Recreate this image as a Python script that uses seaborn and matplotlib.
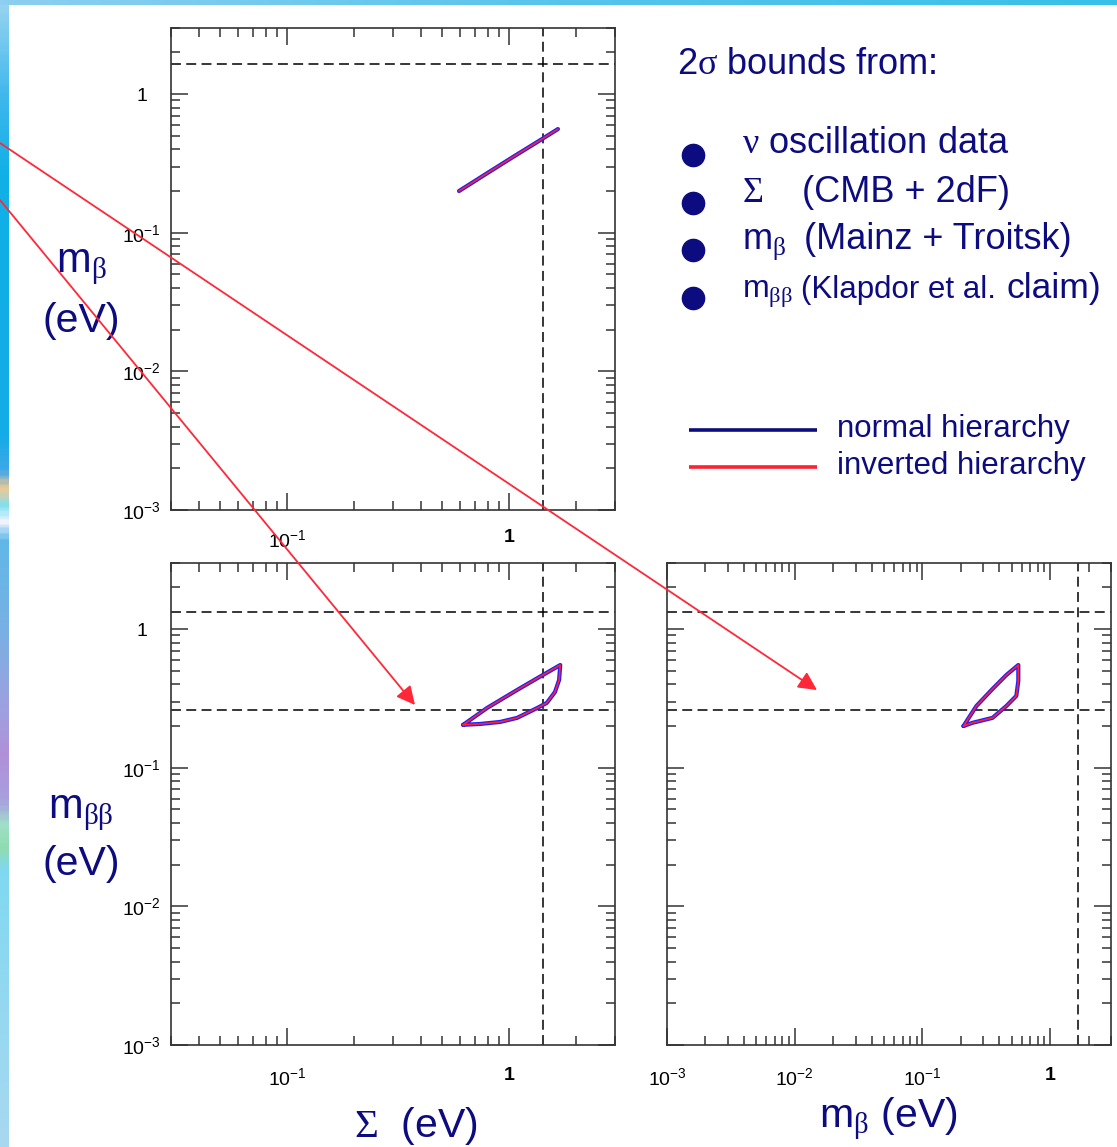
import numpy as np
import pandas as pd
import matplotlib
matplotlib.use("Agg")
import matplotlib.pyplot as plt
import seaborn as sns
from matplotlib.ticker import FixedLocator, FixedFormatter, LogLocator, NullFormatter
from matplotlib.colors import LinearSegmentedColormap

# ---------------- data ----------------
# top panel: m_beta vs Sigma (normal and inverted coincide)
top_sigma = [0.595, 0.80, 1.05, 1.35, 1.66]
top_mbeta = [0.200, 0.270, 0.355, 0.455, 0.560]

# bottom-left panel: m_bb vs Sigma (closed 2-sigma contour)
bl_sigma = [0.621, 0.796, 1.087, 1.42, 1.70, 1.68, 1.61, 1.48, 1.34, 1.087, 0.911, 0.740, 0.621]
bl_mbb = [0.204, 0.270, 0.364, 0.467, 0.551, 0.430, 0.352, 0.294, 0.270, 0.229, 0.214, 0.207, 0.204]

# bottom-right panel: m_bb vs m_beta (closed 2-sigma contour)
br_mbeta = [0.210, 0.265, 0.354, 0.455, 0.564, 0.564, 0.544, 0.455, 0.354, 0.247, 0.210]
br_mbb = [0.200, 0.279, 0.370, 0.467, 0.551, 0.423, 0.330, 0.279, 0.229, 0.211, 0.200]

# 2-sigma bounds (dashed lines)
sigma_bound = 1.42
mbeta_bound = 1.66
mbb_bounds = [0.263, 1.32]

# axis ranges
sigma_lim = [0.03, 3.0]
mass_lim = [0.001, 3.0]

# ticks
sigma_ticks = [0.1, 1.0]
sigma_ticklabels = [r"$10^{-1}$", r"$\mathbf{1}$"]
mass_ticks = [0.001, 0.01, 0.1, 1.0]
mass_xticklabels = [r"$10^{-3}$", r"$10^{-2}$", r"$10^{-1}$", r"$\mathbf{1}$"]
mass_yticklabels = [r"$10^{-3}$", r"$10^{-2}$", r"$10^{-1}$", "1"]

legend_labels = ["normal hierarchy", "inverted hierarchy"]

# ---------------- style ----------------
sns.set_theme(style="ticks")
plt.rcParams["font.family"] = ["Liberation Sans", "DejaVu Sans"]
plt.rcParams["mathtext.fontset"] = "custom"
plt.rcParams["mathtext.rm"] = "Liberation Sans"
plt.rcParams["mathtext.it"] = "Liberation Sans:italic"
plt.rcParams["mathtext.bf"] = "Liberation Sans:bold"
plt.rcParams["mathtext.sf"] = "Liberation Serif"
plt.rcParams["axes.unicode_minus"] = True

W, H = 1117, 1147
DPI = 100
NAVY = "#0c0c80"
BLUE = "#2020ff"
RED = "#ff2030"
ARROW_RED = "#ff2838"
AX_COL = "#333333"

fig = plt.figure(figsize=(W / DPI, H / DPI), dpi=DPI)
fig.patch.set_facecolor("white")

# decorative slide strips (left and top)
strip_cmap = LinearSegmentedColormap.from_list(
    "strip",
    [(0.00, "#98d4f0"), (0.08, "#40b8ec"), (0.15, "#10b0e6"), (0.38, "#14ace6"),
     (0.41, "#40a8e8"), (0.425, "#f4c890"), (0.44, "#80e0f0"), (0.455, "#f0f4ff"),
     (0.47, "#60b8e8"), (0.55, "#78b0e4"), (0.62, "#a0a0e0"), (0.66, "#b090d8"),
     (0.70, "#a8a0e0"), (0.72, "#a0e0c8"), (0.74, "#90dcb0"), (0.76, "#80d8f0"),
     (1.00, "#a8d8f0")])
ax_strip = fig.add_axes([0, 0, 9 / W, 1])
ax_strip.imshow(np.linspace(0, 1, 400).reshape(-1, 1), aspect="auto", cmap=strip_cmap,
                origin="upper", extent=[0, 1, 0, 1])
ax_strip.set_axis_off()
top_cmap = LinearSegmentedColormap.from_list("top", ["#8ccff0", "#58c4ec", "#38c0e8"])
ax_topband = fig.add_axes([0, 1 - 5 / H, 1, 5 / H])
ax_topband.imshow(np.linspace(0, 1, 400).reshape(1, -1), aspect="auto", cmap=top_cmap,
                  extent=[0, 1, 0, 1])
ax_topband.set_axis_off()


def px_axes(left, top, right, bottom):
    return fig.add_axes([left / W, 1 - bottom / H, (right - left) / W, (bottom - top) / H])


ax_top = px_axes(171, 28, 615, 510)
ax_bl = px_axes(171, 563, 615, 1045)
ax_br = px_axes(667, 563, 1111, 1045)

dash = (0, (6.5, 3.5))


def style_axes(ax, xlim, xticks, xlabels, ylim, yticks, ylabels, show_ylabels=True, xpad=16):
    ax.set_xscale("log")
    ax.set_yscale("log")
    ax.set_xlim(*xlim)
    ax.set_ylim(*ylim)
    ax.xaxis.set_major_locator(FixedLocator(xticks))
    ax.xaxis.set_major_formatter(FixedFormatter(xlabels))
    ax.yaxis.set_major_locator(FixedLocator(yticks))
    ax.yaxis.set_major_formatter(FixedFormatter(ylabels))
    ax.xaxis.set_minor_locator(LogLocator(base=10, subs=np.arange(2, 10), numticks=20))
    ax.yaxis.set_minor_locator(LogLocator(base=10, subs=np.arange(2, 10), numticks=20))
    ax.xaxis.set_minor_formatter(NullFormatter())
    ax.yaxis.set_minor_formatter(NullFormatter())
    ax.tick_params(which="both", direction="in", top=True, right=True, color=AX_COL,
                   width=1.1, labelcolor="black", labelsize=14)
    ax.tick_params(which="major", length=12)
    ax.tick_params(which="minor", length=6.2)
    ax.tick_params(axis="x", which="major", pad=xpad)
    ax.tick_params(axis="y", which="major", pad=21, labelleft=show_ylabels)
    for lab in ax.get_yticklabels():
        lab.set_horizontalalignment("center")
        lab.set_verticalalignment("center_baseline")
    for sp in ax.spines.values():
        sp.set_color(AX_COL)
        sp.set_linewidth(1.2)
    ax.set_xlabel("")
    ax.set_ylabel("")
    ax.set_facecolor("white")


def draw_pair(ax, x, y):
    sns.lineplot(x=x, y=y, ax=ax, color=BLUE, lw=3.0, sort=False, estimator=None, zorder=3)
    sns.lineplot(x=x, y=y, ax=ax, color=RED, lw=1.2, sort=False, estimator=None, zorder=4)


# top panel
draw_pair(ax_top, top_sigma, top_mbeta)
ax_top.axhline(mbeta_bound, color="black", lw=1.1, linestyle=dash, zorder=2)
ax_top.axvline(sigma_bound, color="black", lw=1.1, linestyle=dash, zorder=2)
style_axes(ax_top, sigma_lim, sigma_ticks, sigma_ticklabels, mass_lim, mass_ticks, mass_yticklabels,
           xpad=14)

# bottom-left
draw_pair(ax_bl, bl_sigma, bl_mbb)
for b in mbb_bounds:
    ax_bl.axhline(b, color="black", lw=1.1, linestyle=dash, zorder=2)
ax_bl.axvline(sigma_bound, color="black", lw=1.1, linestyle=dash, zorder=2)
style_axes(ax_bl, sigma_lim, sigma_ticks, sigma_ticklabels, mass_lim, mass_ticks, mass_yticklabels)

# bottom-right
draw_pair(ax_br, br_mbeta, br_mbb)
for b in mbb_bounds:
    ax_br.axhline(b, color="black", lw=1.1, linestyle=dash, zorder=2)
ax_br.axvline(mbeta_bound, color="black", lw=1.1, linestyle=dash, zorder=2)
style_axes(ax_br, mass_lim, mass_ticks, mass_xticklabels, mass_lim, mass_ticks, mass_yticklabels,
           show_ylabels=False)

# ---------------- overlay (pixel coordinates) ----------------
ov = fig.add_axes([0, 0, 1, 1], zorder=10)
ov.set_xlim(0, W)
ov.set_ylim(H, 0)
ov.set_axis_off()
ov.patch.set_visible(False)

# axis titles
ov.text(81, 272, r"$\mathrm{m}_{\mathsf{\beta}}$", fontsize=30, color=NAVY, ha="center", va="baseline")
ov.text(81, 332, "(eV)", fontsize=29.5, color=NAVY, ha="center", va="baseline")
ov.text(81, 818, r"$\mathrm{m}_{\mathsf{\beta\beta}}$", fontsize=30, color=NAVY, ha="center", va="baseline")
ov.text(81, 875, "(eV)", fontsize=29.5, color=NAVY, ha="center", va="baseline")
ov.text(416, 1137, r"$\mathsf{\Sigma}$  (eV)", fontsize=29.5, color=NAVY, ha="center", va="baseline")
ov.text(888, 1127, r"$\mathrm{m}_{\mathsf{\beta}}$ (eV)", fontsize=29.5, color=NAVY, ha="center", va="baseline")

# "2 sigma bounds from:" block
ov.text(677, 74, r"2$\mathsf{\sigma}$ bounds from:", fontsize=26, color=NAVY, ha="left", va="baseline")
bullet_y = [155, 203, 250, 298]
ov.plot([693] * len(bullet_y), bullet_y, "o", ms=16, color=NAVY, mec=NAVY, ls="none")
ov.text(742, 153, r"$\mathsf{\nu}$ oscillation data", fontsize=26, color=NAVY, ha="left", va="baseline")
ov.text(742, 202, r"$\mathsf{\Sigma}$", fontsize=26, color=NAVY, ha="left", va="baseline")
ov.text(802, 202, "(CMB + 2dF)", fontsize=26, color=NAVY, ha="left", va="baseline")
ov.text(742, 249, r"$\mathrm{m}_{\mathsf{\beta}}$", fontsize=26, color=NAVY, ha="left", va="baseline")
ov.text(804, 249, "(Mainz + Troitsk)", fontsize=26, color=NAVY, ha="left", va="baseline")
ov.text(742, 298, r"$\mathrm{m}_{\mathsf{\beta\beta}}$", fontsize=23, color=NAVY, ha="left", va="baseline")
ov.text(801, 298, "(Klapdor et al.", fontsize=22.5, color=NAVY, ha="left", va="baseline")
ov.text(1007, 298, "claim)", fontsize=25.5, color=NAVY, ha="left", va="baseline")

# hierarchy key
ov.plot([689, 817], [430, 430], color=NAVY, lw=2.6, solid_capstyle="butt")
ov.plot([689, 817], [467, 467], color=RED, lw=2.6, solid_capstyle="butt")
ov.text(837, 437, legend_labels[0], fontsize=22.5, color=NAVY, ha="left", va="baseline")
ov.text(837, 474, legend_labels[1], fontsize=22.5, color=NAVY, ha="left", va="baseline")

# red arrows
arrow_kw = dict(arrowstyle="-|>", color=ARROW_RED, lw=1.3, mutation_scale=28,
                shrinkA=0, shrinkB=0)
ov.annotate("", xy=(817, 690), xytext=(0, 143), arrowprops=arrow_kw)
ov.annotate("", xy=(415, 705), xytext=(0, 200), arrowprops=arrow_kw)

fig.savefig("out.png", dpi=DPI, facecolor="white")
